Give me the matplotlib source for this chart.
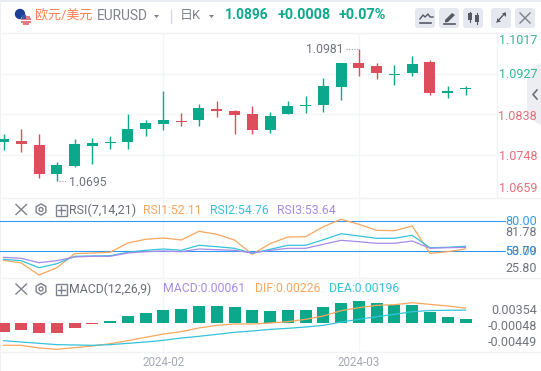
import matplotlib
matplotlib.use("Agg")
import matplotlib.pyplot as plt
from matplotlib.patches import Circle, FancyBboxPatch, Polygon, Rectangle, RegularPolygon
import numpy as np

W, H = 541, 371
plt.rcParams['font.family'] = ['Roboto', 'Noto Sans CJK SC', 'DejaVu Sans']

# ---------- data ----------
highs = [1.0794,1.0806,1.0795,1.0733,1.0784,1.0786,1.0790,1.0839,1.0826,1.0890,1.0841,1.0861,1.0868,1.0848,
         1.0856,1.0843,1.0868,1.0879,1.0918,1.0951,1.0983,1.0951,1.0947,1.0967,1.0958,1.0901,1.0901]
lows = [1.0760,1.0755,1.0698,1.0692,1.0723,1.0729,1.0762,1.0762,1.0790,1.0804,1.0812,1.0812,1.0832,1.0795,
        1.0795,1.0797,1.0839,1.0841,1.0843,1.0870,1.0923,1.0916,1.0903,1.0923,1.0881,1.0874,1.0881]
opens = [1.0777,1.0779,1.0771,1.0707,1.0724,1.0768,1.0775,1.0777,1.0806,1.0817,1.0823,1.0826,1.0850,1.0845,
         1.0839,1.0804,1.0839,1.0856,1.0859,1.0898,1.0951,1.0945,1.0925,1.0929,1.0953,1.0885,1.0895]
closes = [1.0784,1.0773,1.0707,1.0727,1.0773,1.0775,1.0777,1.0806,1.0819,1.0826,1.0821,1.0852,1.0845,1.0837,
          1.0804,1.0834,1.0856,1.0859,1.0901,1.0951,1.0940,1.0929,1.0927,1.0949,1.0885,1.0890,1.0896]
rsi1 = [40.7,38,26,33.3,47.3,48,48.7,58,61.7,63,61,69.7,66.7,61,46.7,57.3,64,64.3,74.3,81.78,76.7,70.7,70.3,75,47.7,49.3,52.11]
rsi2 = [41.7,40.3,33.3,37.3,44.7,45,45.3,48.7,50.7,52,50.7,55.7,54.3,52.7,47.7,51.7,55.7,55.7,61.3,67.3,65,62.7,62.7,65.7,53.3,53.7,54.76]
rsi3 = [43.7,42.7,38.3,40.3,44,44.7,44.7,48,49.3,50,49.3,52,51.3,50.7,48,50.7,52.7,52.7,56.7,60.7,59.3,57.7,57.7,60,52.7,53.3,53.64]
macd = [-.00137,-.00107,-.00152,-.00152,-.00076,-.00015,.0003,.00107,.00152,.00198,.00213,.00259,.00259,.00244,
        .00198,.00183,.00198,.00198,.00244,.00305,.00336,.00305,.00274,.00274,.00168,.00091,.00061]
dif = [-.0034,-.0034,-.00381,-.00401,-.00376,-.00351,-.00315,-.00269,-.00218,-.00168,-.00132,-.00076,-.00036,-.00015,
       -.00015,0,.0002,.00056,.00107,.00188,.00234,.00269,.00279,.0031,.00284,.00259,.00226]
dea = [-.00269,-.0029,-.0031,-.0033,-.00335,-.0034,-.0033,-.0031,-.0029,-.00264,-.00229,-.00203,-.00173,-.00142,
       -.00122,-.00097,-.00081,-.00061,-.00036,.00015,.00056,.00097,.00132,.00173,.0019,.00194,.00196]
price_ticks = [1.0927, 1.0838, 1.0748]
date_idx = [9, 20]
date_labels = ['2024-02', '2024-03']

GREEN, RED = '#0BA88B', '#DD4D5C'
ORANGE, CYAN, PURPLE, BLUE = '#F9A65E', '#35C3DB', '#A78BE8', '#2F9BF0'
GRID, GRAY = '#F4F5F9', '#70737F'

fig = plt.figure(figsize=(W/100, H/100), dpi=100, facecolor='white')

def pane(top, bottom):
    ax = fig.add_axes([0, 1-bottom/H, 496.5/W, (bottom-top)/H])
    ax.set_xlim(-3.5/17.77, 493/17.77)
    ax.set_xticks([]); ax.set_yticks([])
    ax.patch.set_alpha(0)
    for s in ax.spines.values():
        s.set_visible(False)
    for d in date_idx:
        ax.axvline(d, color=GRID, lw=1, zorder=0)
    return ax

# overlay in pixel coordinates for the chrome
bg = fig.add_axes([0, 0, 1, 1]); bg.set_xlim(0, W); bg.set_ylim(H, 0); bg.axis('off')
bg.add_patch(Rectangle((0, 0), W, 2, color='#E9ECF1', lw=0))
bg.add_patch(Rectangle((0, 0), 1, H, color='#EEF0F5', lw=0))
for y in (32.5, 197.5, 277.5, 351.5):
    bg.plot([0, W], [y, y], color='#F1F2F6', lw=1)
bg.plot([496.5, 496.5], [33, 197], color='#F1F2F6', lw=1)

# price pane
ax = pane(33, 197)
ax.set_ylim(1.0927-123/4541, 1.0927+41/4541)
for p in price_ticks:
    ax.axhline(p, color=GRID, lw=1, zorder=0)
x = np.arange(len(opens))
for i in x:
    c = GREEN if closes[i] >= opens[i] else RED
    ax.plot([i, i], [lows[i], highs[i]], color=c, lw=1, solid_capstyle='butt', zorder=2)
    ax.bar(i, max(abs(closes[i]-opens[i]), 0.00022), bottom=min(opens[i], closes[i]), width=11/17.77, color=c, lw=0, zorder=3)
ax.plot([3.1, 3.6], [lows[3], lows[3]], color='#9A9DA8', lw=0.8, ls=(0, (1, 1.4)))
ax.text(3.68, lows[3]-0.0005, '1.0695', fontsize=8.8, color=GRAY, va='center')
ax.plot([19.3, 19.95], [highs[20]-0.0002, highs[20]-0.0002], color='#9A9DA8', lw=0.8, ls=(0, (1, 1.4)))
ax.text(19.15, highs[20]-0.0003, '1.0981', fontsize=8.8, color=GRAY, va='center', ha='right')

# RSI pane
ax2 = pane(197, 277)
ax2.set_ylim(24, 104)
ax2.set_xlim(ax.get_xlim())
ax2.plot([-0.2, 28.2], [80, 80], color=BLUE, lw=0.8, zorder=1, clip_on=False)
ax2.plot([-0.2, 28.2], [50, 50], color=BLUE, lw=0.8, zorder=1, clip_on=False)
ax2.plot(x, rsi1, color=ORANGE, lw=0.9, zorder=3)
ax2.plot(x, rsi2, color=CYAN, lw=0.9, zorder=3)
ax2.plot(x, rsi3, color=PURPLE, lw=0.9, zorder=3)

# MACD pane
ax3 = pane(277, 351)
ax3.set_ylim(-28/6557, 46/6557)
ax3.set_xlim(ax.get_xlim())
ax3.bar(x, macd, width=12/17.77, color=[GREEN if v >= 0 else RED for v in macd], lw=0, zorder=2)
ax3.plot(x, dif, color=ORANGE, lw=0.9, zorder=3)
ax3.plot(x, dea, color=CYAN, lw=0.9, zorder=3)
for d, lab in zip(date_idx, date_labels):
    ax3.annotate(lab, (d, 0), xycoords=('data', 'axes fraction'), xytext=(0, -3.5), textcoords='offset points',
                 ha='center', va='top', fontsize=8.4, color='#A6A9B6')

# chrome overlay on top
t = fig.add_axes([0, 0, 1, 1]); t.set_xlim(0, W); t.set_ylim(H, 0); t.axis('off'); t.patch.set_alpha(0)

def txt(px, py, s, color, size=8.6, ha='left', weight='normal', family=None):
    kw = {'family': family} if family else {}
    t.text(px, py, s, color=color, fontsize=size, ha=ha, va='center', fontweight=weight, **kw)

# right axis labels
txt(537, 41, '1.1017', '#2DB79C', ha='right', size=9)
txt(537, 75, '1.0927', '#2DB79C', ha='right', size=9)
txt(537, 116, '1.0838', '#E4707C', ha='right', size=9)
txt(537, 157, '1.0748', '#E4707C', ha='right', size=9)
txt(537, 189, '1.0659', '#E4707C', ha='right', size=9)
txt(537, 232, '81.78', GRAY, ha='right', size=9)
txt(537, 251.5, '53.79', GRAY, ha='right', size=9)
txt(537, 269, '25.80', GRAY, ha='right', size=9)
txt(537, 221.5, '80.00', BLUE, ha='right', size=9)
txt(537, 251.5, '50.00', BLUE, ha='right', size=9)
txt(537, 311, '0.00354', GRAY, ha='right', size=9)
txt(537, 327, '-0.00048', GRAY, ha='right', size=9)
txt(537, 343, '-0.00449', GRAY, ha='right', size=9)

# header
t.add_patch(Circle((20, 14), 5.2, color='#1C3F94', lw=0))
t.add_patch(Circle((26, 20), 5.2, color='#F5F0F0', lw=0, zorder=3))
for yy in (16.5, 19, 21.5, 24):
    half = np.sqrt(max(5.2**2-(yy-20)**2, 0))
    t.plot([26-half, 26+half], [yy, yy], color='#E0555F', lw=1.1, zorder=4, solid_capstyle='butt')
t.add_patch(Rectangle((21.5, 15), 4.5, 4, color='#3C5AA8', lw=0, zorder=5))
txt(35, 15, '欧元/美元', '#FA8052', size=9.4)
txt(97, 16.5, 'EURUSD', '#80838F', size=9.9)
t.add_patch(Polygon([[154, 15], [159, 15], [156.5, 18]], color='#80838F', lw=0))
t.plot([170.5, 170.5], [10, 23], color='#D5D8E0', lw=1)
txt(180, 15, '日K', '#80838F', size=9.4)
t.add_patch(Polygon([[209, 15], [214, 15], [211.5, 18]], color='#80838F', lw=0))
txt(225, 15, '1.0896', GREEN, size=9.9, weight='bold')
txt(277.5, 15, '+0.0008', GREEN, size=10.4, weight='bold')
txt(339, 15, '+0.07%', GREEN, size=10.4, weight='bold')
for bx in (415, 439, 463, 491, 515):
    t.add_patch(FancyBboxPatch((bx+2, 10), 16, 16, boxstyle='round,pad=2,rounding_size=3', color='#E6E8EF', lw=0))
ICON = '#565964'
t.plot([420, 423, 425, 428, 430, 433], [19, 15, 17, 14, 17, 17], color=ICON, lw=1)
t.plot([420, 431], [22.5, 22.5], color=ICON, lw=1.2)
t.add_patch(Polygon([[445, 20], [452, 13], [455, 15], [448, 22], [445, 22.5]], color=ICON, lw=0))
t.plot([444, 455], [23.5, 23.5], color=ICON, lw=1.2)
t.add_patch(Rectangle((468, 13), 4, 7, color=ICON, lw=0))
t.add_patch(Rectangle((475, 15), 4, 7, color=ICON, lw=0))
t.plot([470, 470], [11.5, 22], color=ICON, lw=0.8)
t.plot([477, 477], [13, 24], color=ICON, lw=0.8)
t.plot([497, 505], [22, 13], color=ICON, lw=1)
t.add_patch(Polygon([[502, 13], [506, 13], [506, 17]], color=ICON, lw=0))
t.add_patch(Polygon([[497, 18], [497, 22], [501, 22]], color=ICON, lw=0))
t.plot([520, 530], [13, 23], color='#7C7F8A', lw=1)
t.plot([520, 530], [23, 13], color='#7C7F8A', lw=1)
# collapse tab
t.add_patch(Polygon([[541, 63], [527, 71], [527, 117], [541, 125]], color='#EDEEF2', lw=0, zorder=0.5))
t.plot([537, 533, 537], [90, 94.5, 99], color='#6C6F7A', lw=1.2)

TOOL = '#7E818D'
def tools(y):
    t.plot([16, 26.5], [y-5, y+5], color=TOOL, lw=1)
    t.plot([16, 26.5], [y+5, y-5], color=TOOL, lw=1)
    t.add_patch(RegularPolygon((41, y), 6, radius=5.6, fill=False, ec=TOOL, lw=1))
    t.add_patch(Circle((41, y), 2, fill=False, ec=TOOL, lw=1))
    t.add_patch(Rectangle((55.5, y-5), 11, 11, fill=False, ec=TOOL, lw=1))
    t.plot([57.5, 64.5], [y+0.5, y+0.5], color=TOOL, lw=1)
    t.plot([61, 61], [y-3, y+4], color=TOOL, lw=1)

tools(209.5)
tools(289)
txt(69.5, 210, 'RSI(7,14,21)', '#6A6D78', size=9)
txt(143, 210, 'RSI1:52.11', ORANGE, size=8.8)
txt(210, 210, 'RSI2:54.76', CYAN, size=8.8)
txt(276.5, 210, 'RSI3:53.64', PURPLE, size=8.8)
txt(69.5, 289, 'MACD(12,26,9)', '#6A6D78', size=8.8)
txt(163, 289, 'MACD:0.00061', PURPLE, size=8.8)
txt(255, 289, 'DIF:0.00226', ORANGE, size=8.8)
txt(329, 289, 'DEA:0.00196', CYAN, size=8.8)

fig.savefig('out.png', dpi=100)
